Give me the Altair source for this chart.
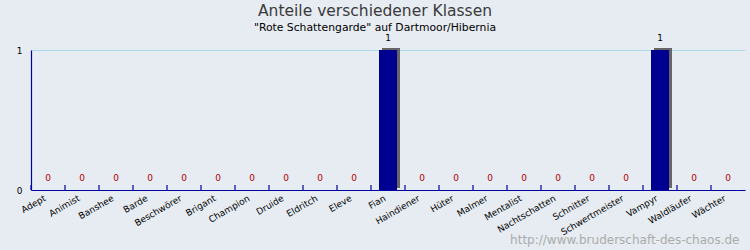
import altair as alt
import pandas as pd

klassen = ["Adept", "Animist", "Banshee", "Barde", "Beschwörer", "Brigant", "Champion",
           "Druide", "Eldritch", "Eleve", "Fian", "Haindiener", "Hüter", "Malmer",
           "Mentalist", "Nachtschatten", "Schnitter", "Schwertmeister", "Vampyr",
           "Waldläufer", "Wächter"]
anteile = [0, 0, 0, 0, 0, 0, 0, 0, 0, 0, 1, 0, 0, 0, 0, 0, 0, 0, 1, 0, 0]
y_ticks = [0, 1]

df = pd.DataFrame({"klasse": klassen, "anteil": anteile})

NAVY = "#0000a0"
BAR = "#000090"
FONT = "DejaVu Sans"

x_axis = alt.Axis(
    title="http://www.bruderschaft-des-chaos.de",
    titleFont=FONT, titleFontSize=12, titleFontWeight="normal", titleColor="#ababab",
    titleAnchor="end", titleAlign="right", titleBaseline="bottom",
    titleX=708, titleY=56,
    labelAngle=-30, labelAlign="right", labelBaseline="middle", labelPadding=7,
    labelOffset=-3,
    labelFont=FONT, labelFontSize=9, labelColor="#000",
    ticks=False, domainColor=NAVY, domainWidth=1.2, grid=False,
)
x_scale = alt.Scale(paddingInner=0, paddingOuter=0)

def xenc(**kw):
    return alt.X("klasse:N", sort=klassen, scale=x_scale, axis=x_axis, **kw)

y_enc = alt.Y("anteil:Q", scale=alt.Scale(domain=[0, 1], nice=False),
              axis=alt.Axis(values=y_ticks, format="d", title=None, ticks=False, labelPadding=9,
                            labelFont=FONT, labelFontSize=9, labelColor="#000",
                            domainColor=NAVY, domainWidth=1.2,
                            grid=True, gridColor="#add8e6", gridWidth=1.2))

base = alt.Chart(df)

shadow = base.mark_bar(size=18, color="#666666", xOffset=3, yOffset=-2).encode(
    x=xenc(), y=y_enc)
bars = base.mark_bar(size=18, color=BAR).encode(x=xenc(), y=y_enc)
ticks = base.mark_rule(color=NAVY, strokeWidth=1.2).encode(
    x=xenc(bandPosition=0), y=alt.value(135), y2=alt.value(140))
labels = base.mark_text(dy=-12, font=FONT, fontSize=9).encode(
    x=xenc(), y=y_enc, text="anteil:Q",
    color=alt.condition(alt.datum.anteil == 0, alt.value("#b00000"), alt.value("#000000")))

chart = alt.layer(shadow, bars, ticks, labels).properties(
    width=714, height=140,
    autosize=alt.AutoSizeParams(type="none"),
    padding={"left": 31, "top": 50, "right": 5, "bottom": 60},
    title=alt.TitleParams(
        "Anteile verschiedener Klassen",
        subtitle='"Rote Schattengarde" auf Dartmoor/Hibernia',
        font=FONT, fontSize=15.5, fontWeight="normal", color="#3a3a3a",
        subtitleFont=FONT, subtitleFontSize=10.8, subtitleColor="#000000",
        subtitlePadding=3, anchor="middle", dx=-13, offset=1),
).configure(background="#e6ecf2").configure_view(stroke=None)

chart.save("out.html", embed_options={"renderer": "svg", "actions": False})
